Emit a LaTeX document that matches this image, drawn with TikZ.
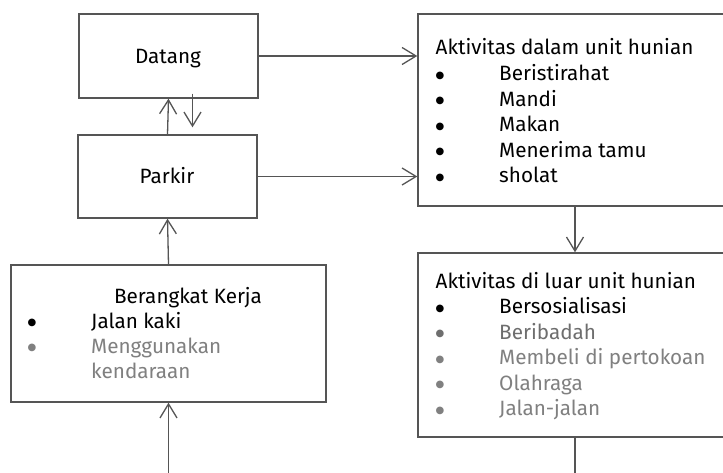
\documentclass[tikz,border=0pt]{standalone}
\usepackage{fontspec}
\setmainfont{Fira Sans}
\newfontfamily\bulfont{DejaVu Sans}
\usetikzlibrary{arrows.meta}
\definecolor{ln}{HTML}{555555}
\definecolor{gtxt}{HTML}{808080}
\definecolor{gtxtb}{HTML}{6E6E6E}
\newcommand{\bul}{{\bulfont\fontsize{10}{10}\selectfont\raisebox{2.5pt}{●}}}
\begin{document}
\begin{tikzpicture}[x=1pt,y=-1pt,
  box/.style={draw=ln,line width=1.4pt,inner sep=0pt,fill=white},
  txt/.style={anchor=base west,inner sep=0pt,font=\fontsize{20.7}{25}\selectfont},
  ctxt/.style={anchor=base,inner sep=0pt,font=\fontsize{20.7}{25}\selectfont},
  arr/.style={draw=ln,line width=1.3pt,-{Straight Barb[length=14pt,width=17pt]}},
  plain/.style={draw=ln,line width=1.3pt}]
\clip (0,0) rectangle (723,473);
\fill[white] (0,0) rectangle (723,473);
% boxes
\node[box,minimum width=179pt,minimum height=84pt] (datang) at (168.5,56) {};
\node[box,minimum width=179pt,minimum height=83pt] (parkir) at (167.5,176.5) {};
\node[box,minimum width=315pt,minimum height=137pt] (berangkat) at (168.5,333.5) {};
\node[box,minimum width=322pt,minimum height=192pt] (box1) at (579,110) {};
\node[box,minimum width=322pt,minimum height=184pt] (box2) at (579,345) {};
% connectors
\coordinate (bot1) at (168.5,473);
\coordinate (bot2) at (575,473);
\draw[arr] (datang.east) -- (datang.east -| box1.west);
\draw[arr] (parkir.east) -- (parkir.east -| box1.west);
\draw[arr] (parkir.north) -- (datang.south);
\draw[arr] ([xshift=24pt,yshift=5pt]datang.south) -- ([xshift=25pt,yshift=7pt]parkir.north);
\draw[arr] (berangkat.north) -- (parkir.south);
\draw[arr] (bot1) -- (berangkat.south);
\draw[arr] ([xshift=-4pt]box1.south) -- ([xshift=-4pt]box2.north);
\draw[plain] ([xshift=-4pt]box2.south) -- (bot2);
% texts
\node[ctxt] (tdatang) at (168,64) {Datang};
\node[ctxt] (tparkir) at (167,184) {Parkir};
% box1
\node[txt] (t1) at (435.5,55) {Aktivitas dalam unit hunian};
\node[ctxt] (b11) at (440,80.6) {\bul};
\node[txt] (t11) at (499,80.6) {Beristirahat};
\node[ctxt] (b12) at (440,106.2) {\bul};
\node[txt] (t12) at (499,106.2) {Mandi};
\node[ctxt] (b13) at (440,131.8) {\bul};
\node[txt] (t13) at (499,131.8) {Makan};
\node[ctxt] (b14) at (440,157.4) {\bul};
\node[txt] (t14) at (499,157.4) {Menerima tamu};
\node[ctxt] (b15) at (440,183) {\bul};
\node[txt] (t15) at (499,183) {sholat};
% box2
\node[txt] (t2) at (435.5,288) {Aktivitas di luar unit hunian};
\node[ctxt] (b21) at (440,313.5) {\bul};
\node[txt] (t21) at (499,313.5) {Bersosialisasi};
\node[ctxt,text=gtxtb] (b22) at (440,339) {\bul};
\node[txt,text=gtxtb] (t22) at (499,339) {Beribadah};
\node[ctxt,text=gtxt] (b23) at (440,364.5) {\bul};
\node[txt,text=gtxt] (t23) at (499,364.5) {Membeli di pertokoan};
\node[ctxt,text=gtxt] (b24) at (440,390) {\bul};
\node[txt,text=gtxt] (t24) at (499,390) {Olahraga};
\node[ctxt,text=gtxt] (b25) at (440,415.5) {\bul};
\node[txt,text=gtxt] (t25) at (499,415.5) {Jalan-jalan};
% berangkat
\node[ctxt] (t3) at (188,303) {Berangkat Kerja};
\node[ctxt] (b31) at (32,328) {\bul};
\node[txt] (t31) at (91,328) {Jalan kaki};
\node[ctxt,text=gtxt] (b32) at (32,353) {\bul};
\node[txt,text=gtxt] (t32) at (91,353) {Menggunakan};
\node[txt,text=gtxt] (t33) at (91,378) {kendaraan};
\end{tikzpicture}
\end{document}
